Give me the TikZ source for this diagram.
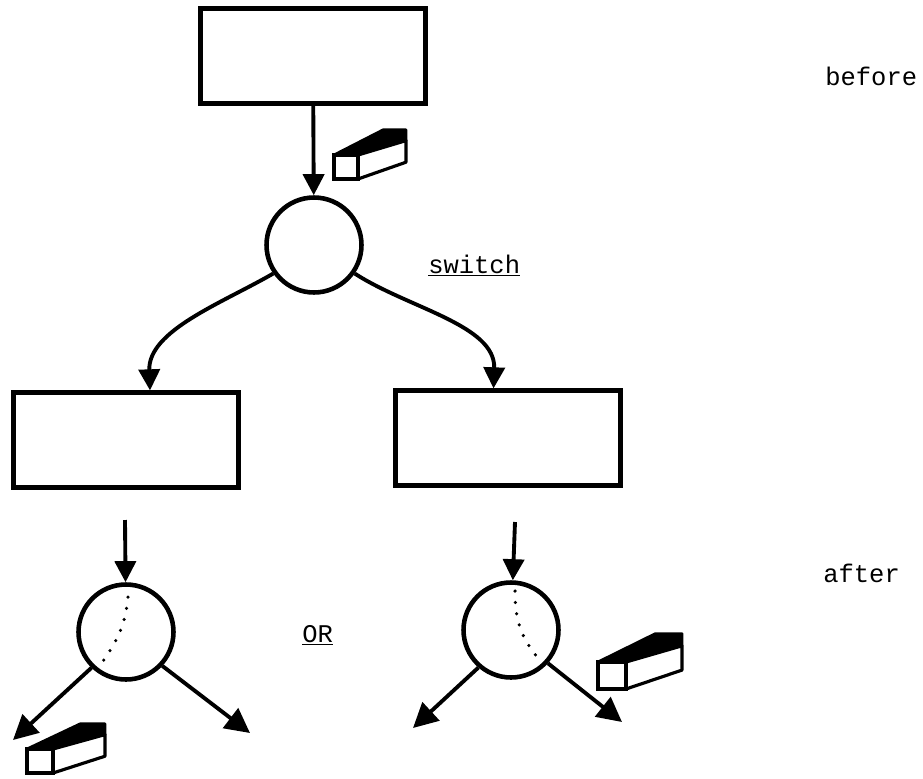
\documentclass[tikz,border=0pt]{standalone}
\usepackage{fontspec}
\setmonofont{Liberation Mono}
\usetikzlibrary{arrows.meta}

\tikzset{
  box/.style={draw, line width=2.4pt, minimum width=4.5cm, minimum height=1.9cm, inner sep=0pt},
  sw/.style={draw, circle, line width=2.6pt, minimum size=1.9cm, inner sep=0pt},
  arr/.style={line width=2.2pt, -{Triangle[length=12pt,width=12pt]}},
  bigarr/.style={line width=2.2pt, -{Triangle[length=14pt,width=14pt]}},
  txt/.style={anchor=base west, inner sep=0pt, font=\ttfamily\fontsize{14.5}{17}\selectfont},
  pontos/.style={line width=2pt, line cap=round, dash pattern=on 0pt off 6.5pt},
  token/.pic={
    \draw[fill=black, line width=1.6pt, line join=round]
      (0,0) -- (2.05,-1.05) -- (3,-1.05) -- (3,-0.6) -- (1,0) -- cycle;
    \draw[fill=white, line width=1.8pt, line join=round]
      (1,0) -- (3,-0.6) -- (3,0.3) -- (1,1) -- cycle;
    \draw[fill=white, line width=1.8pt] (0,0) rectangle (1,1);
  }
}

\begin{document}
\begin{tikzpicture}[x=0.02cm, y=-0.02cm]
    \useasboundingbox (0,0) rectangle (923,778);

    % Antes
    \node[box] (b0) at (313,56) {};
    \node[sw] (s0) at (314,245) {};
    \draw[arr] (b0) -- (s0);
    \pic[scale=24] at (334,155) {token};

    % Depois da troca
    \node[box] (b1) at (126,440) {};
    \node[box] (b2) at (508,438) {};
    \draw[arr] (s0.215) to[out=210, in=92, looseness=0.9] ([xshift=0.48cm]b1.north);
    \draw[arr] (s0.-35) to[out=-33, in=88, looseness=0.9] ([xshift=-0.29cm]b2.north);

    % Circulos de baixo
    \node[sw] (s1) at (126,632) {};
    \node[sw] (s2) at (511,630) {};
    \coordinate (c1) at (125,520);
    \coordinate (c2) at (515,522);
    \coordinate (o1) at (13,740);
    \coordinate (o2) at (250,733);
    \coordinate (o3) at (413,728);
    \coordinate (o4) at (622,722);
    \draw[arr] (c1) -- (s1);
    \draw[arr] (c2) -- (s2);
    \draw[bigarr] (s1.226) -- (o1);
    \draw[bigarr] (s1.-43) -- (o2);
    \draw[bigarr] (s2.229) -- (o3);
    \draw[bigarr] (s2.-42) -- (o4);

    % Linhas pontilhadas
    \draw[pontos] (128,597) to[out=-95, in=55] (101,664);
    \draw[pontos] (515,591) to[out=-90, in=130] (538,658);

    % Fichas
    \pic[xscale=26, yscale=24] at (27,749) {token};
    \pic[xscale=28, yscale=27] at (598,662) {token};

    % Textos
    \node[txt] (lbefore) at (825,85) {before};
    \node[txt] (lswitch) at (428,273) {\underline{switch}};
    \node[txt] (lafter) at (823,582) {after};
    \node[txt] (lor) at (302,642) {\underline{OR}};
\end{tikzpicture}
\end{document}
